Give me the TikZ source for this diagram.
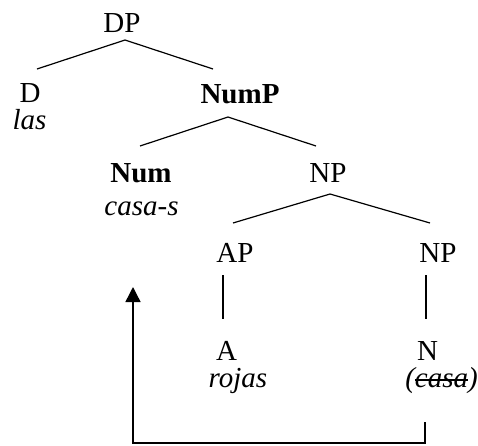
\documentclass[tikz,border=0pt]{standalone}
\usepackage{fontspec}
\setmainfont{Liberation Serif}
\usetikzlibrary{arrows.meta}
\newcommand\mystrike[1]{\setbox0\hbox{#1}\rlap{\raisebox{0.22em}{\rule{\wd0}{0.05em}}}\box0}
\tikzset{
  lab/.style={anchor=base, inner sep=0pt, font=\fontsize{29}{34}\selectfont},
  branch/.style={line width=1.2pt},
  move/.style={line width=1.4pt, -{Triangle[width=15pt,length=15pt]}}
}
\begin{document}
\begin{tikzpicture}[x=1pt,y=1pt]
\useasboundingbox (0,0) rectangle (478,-445);
% labels
\node[lab] (DP) at (122,-32) {DP};
\node[lab] (D) at (30,-102.5) {D};
\node[lab] (las) at (29.5,-129) {\itshape las};
\node[lab] (NumP) at (240,-103) {\bfseries NumP};
\node[lab] (Num) at (141,-182) {\bfseries Num};
\node[lab] (casas) at (141.5,-215) {\itshape casa-s};
\node[lab] (NP) at (328,-182) {NP};
\node[lab] (AP) at (235,-262) {AP};
\node[lab] (NPb) at (438,-262) {NP};
\node[lab] (A) at (226.5,-360) {A};
\node[lab] (rojas) at (238,-387) {\itshape rojas};
\node[lab] (N) at (427.5,-360) {N};
\node[lab] (casa) at (441.5,-387) {\itshape (\mystrike{casa})};
% branch points
\coordinate (dpA) at (125,-40);
\coordinate (dpL) at (37,-69);
\coordinate (dpR) at (213,-69);
\coordinate (numpA) at (228,-117);
\coordinate (numpL) at (140,-146);
\coordinate (numpR) at (316,-146);
\coordinate (npA) at (330,-194);
\coordinate (npL) at (233,-223);
\coordinate (npR) at (430,-223);
\coordinate (apT) at (223,-275);
\coordinate (apB) at (223,-319);
\coordinate (npbT) at (426,-275);
\coordinate (npbB) at (426,-319);
\coordinate (mvS) at (425,-422);
\coordinate (mvC1) at (425,-443);
\coordinate (mvC2) at (133,-443);
\coordinate (mvE) at (133,-287);
% branches
\draw[branch] (dpL) -- (dpA) -- (dpR);
\draw[branch] (numpL) -- (numpA) -- (numpR);
\draw[branch] (npL) -- (npA) -- (npR);
\draw[branch] (apT) -- (apB);
\draw[branch] (npbT) -- (npbB);
% movement arrow
\draw[move] (mvS) -- (mvC1) -- (mvC2) -- (mvE);
\end{tikzpicture}
\end{document}
